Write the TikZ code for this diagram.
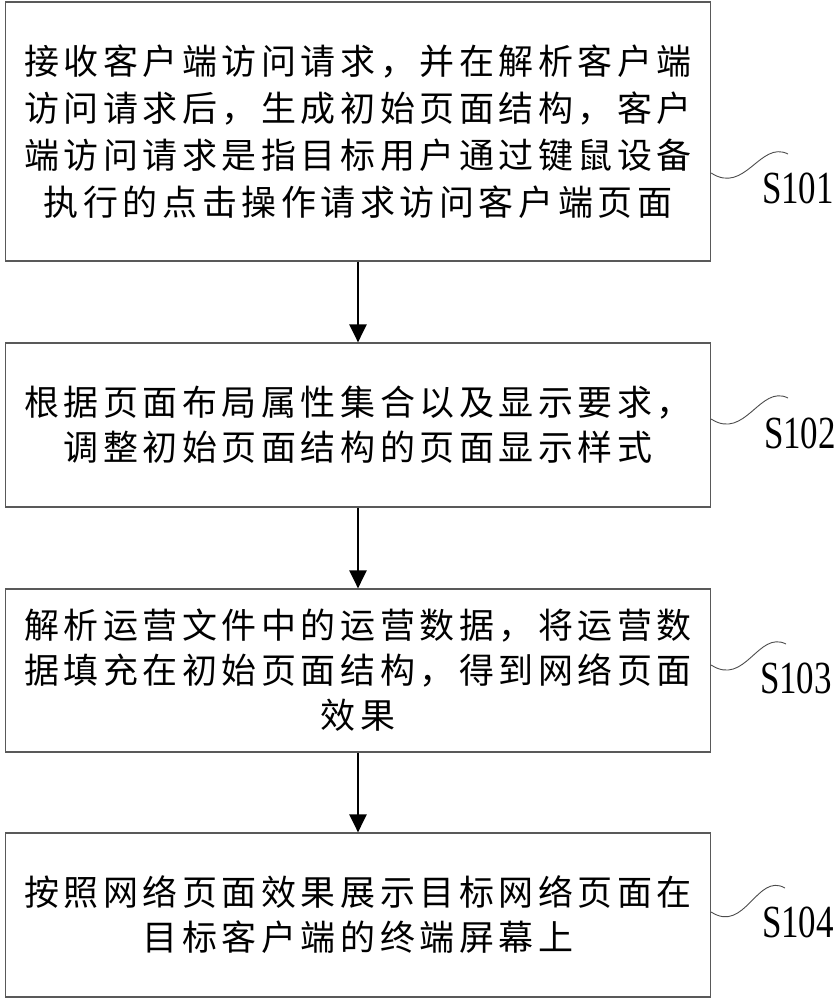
\documentclass[tikz,border=0pt]{standalone}
\usepackage{fontspec}
\setmainfont{Liberation Serif}
\newfontfamily\cjk[LetterSpace=13]{Noto Sans CJK SC}
\usetikzlibrary{arrows.meta}
\tikzset{
  stepbox/.style={draw=black!65, line width=1.2pt, minimum width=705pt, inner sep=0pt, align=center, font=\cjk\fontsize{35}{45}\selectfont},
  flow/.style={-{Triangle[width=17pt,length=18pt]}, line width=2.6pt},
  wave/.style={draw=black!70, line width=0.9pt},
  steplabel/.style={font=\fontsize{46}{46}\selectfont, xscale=0.76}
}

\begin{document}
\begin{tikzpicture}[x=1pt,y=-1pt]
      \useasboundingbox (0,0) rectangle (838,1000);

      \node[stepbox, minimum height=259pt, font=\cjk\fontsize{35}{47}\selectfont] (s1) at (358,131.5) {接收客户端访问请求，并在解析客户端\\访问请求后，生成初始页面结构，客户\\端访问请求是指目标用户通过键鼠设备\\执行的点击操作请求访问客户端页面};

      \node[stepbox, minimum height=164pt] (s2) at (358,425) {根据页面布局属性集合以及显示要求，\\调整初始页面结构的页面显示样式};

      \node[stepbox, minimum height=163pt] (s3) at (358,670.5) {解析运营文件中的运营数据，将运营数\\据填充在初始页面结构，得到网络页面\\效果};

      \node[stepbox, minimum height=164pt] (s4) at (358,915) {按照网络页面效果展示目标网络页面在\\目标客户端的终端屏幕上};

      \draw[flow] (s1) -- (s2);
      \draw[flow] (s2) -- (s3);
      \draw[flow] (s3) -- (s4);

      \node[steplabel] (l1) at (798,188) {S101};
      \node[steplabel] (l2) at (800,433) {S102};
      \node[steplabel] (l3) at (796,678) {S103};
      \node[steplabel] (l4) at (798,922) {S104};

      \coordinate (w1) at (788,154);
      \coordinate (w2) at (788,398);
      \coordinate (w3) at (786,644);
      \coordinate (w4) at (785,888);

      \draw[wave] (s1.east |- 0,173) .. controls +(34,22) and +(-28,-14) .. (w1);
      \draw[wave] (s2.east |- 0,419) .. controls +(34,22) and +(-28,-14) .. (w2);
      \draw[wave] (s3.east |- 0,665) .. controls +(34,22) and +(-28,-14) .. (w3);
      \draw[wave] (s4.east |- 0,912) .. controls +(34,22) and +(-28,-16) .. (w4);

    \end{tikzpicture}
\end{document}
